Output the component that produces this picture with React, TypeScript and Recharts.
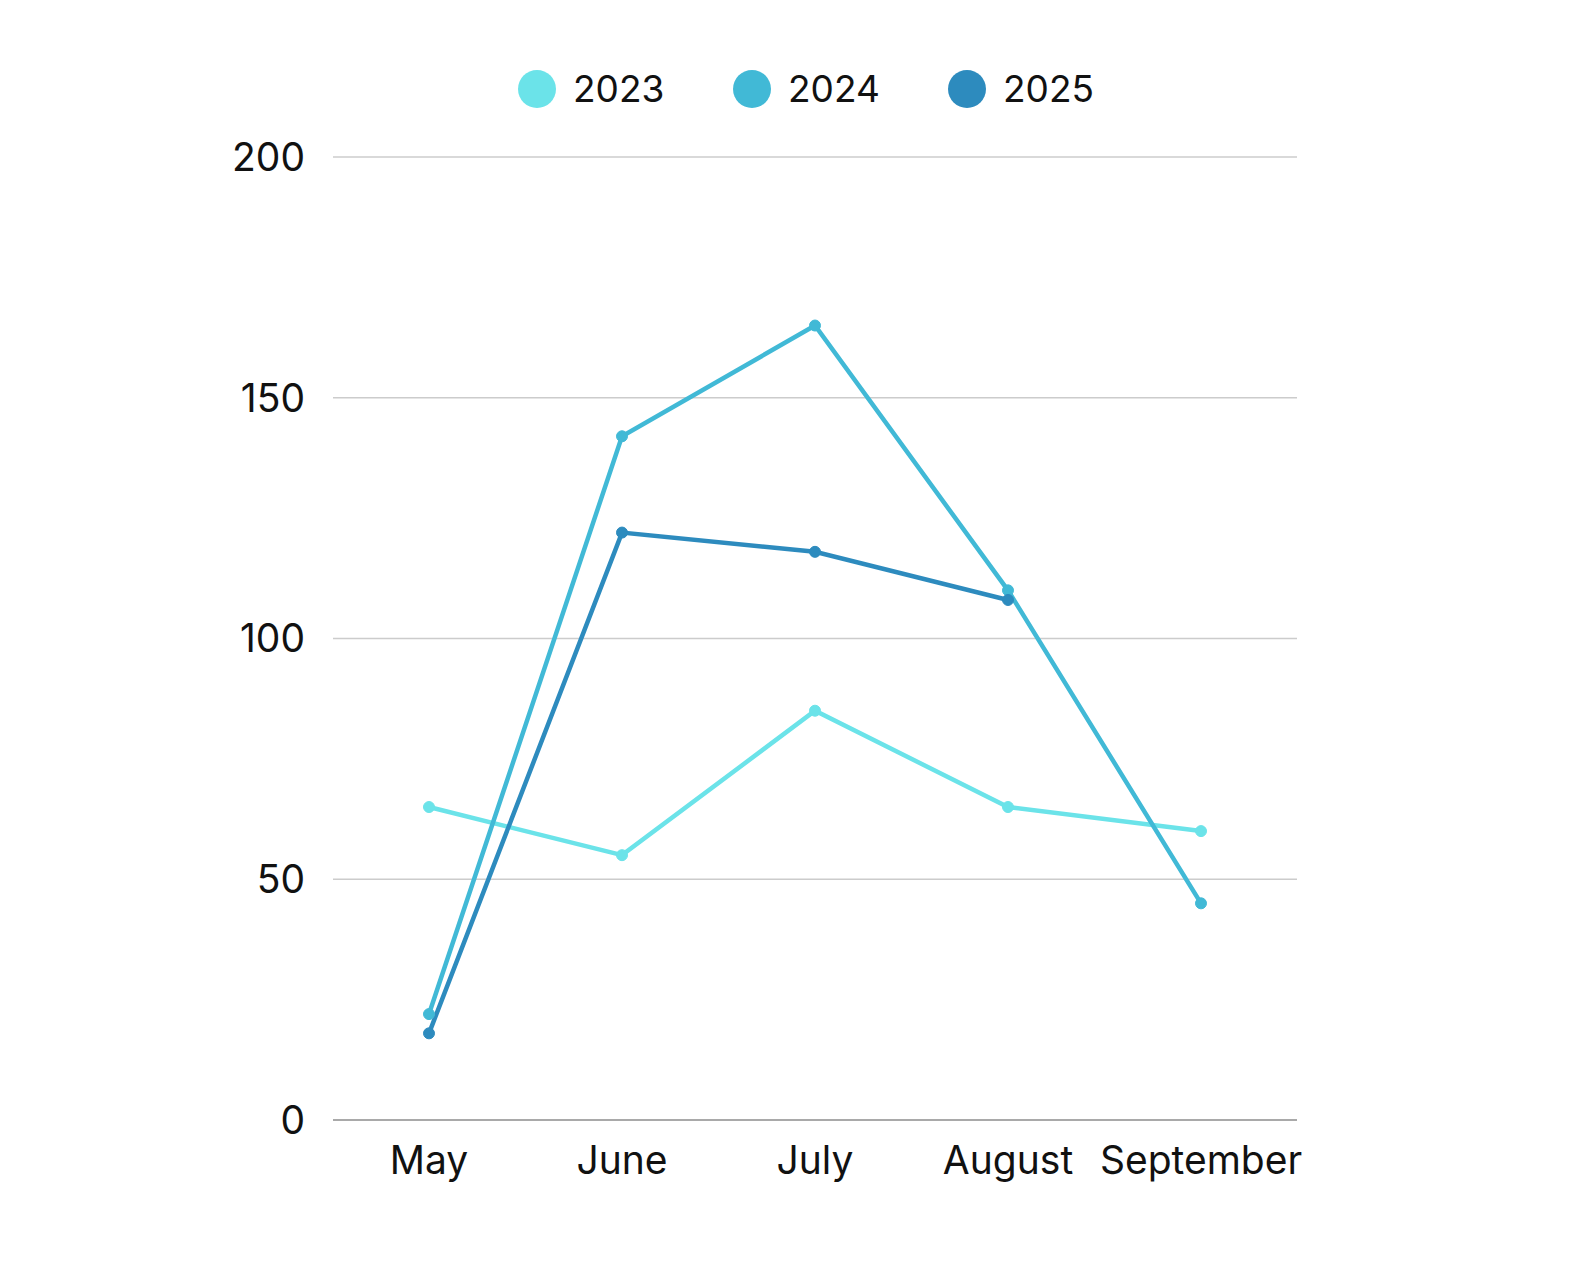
import React from 'react';
import { LineChart, Line, XAxis, YAxis, CartesianGrid } from 'recharts';

const months = ['May', 'June', 'July', 'August', 'September'];
const s2023 = [65, 55, 85, 65, 60];
const s2024 = [22, 142, 165, 110, 45];
const s2025: (number | null)[] = [18, 122, 118, 108, null];
const yTicks = [0, 50, 100, 150, 200];

const series = [
    { key: '2023', color: '#6be3e9', values: s2023 },
    { key: '2024', color: '#41b9d6', values: s2024 },
    { key: '2025', color: '#2d8bbe', values: s2025 },
];

const FONT = 'Inter, Roboto, sans-serif';

const data = months.map((m, i) => {
    const row: Record<string, string | number | null> = { month: m };
    series.forEach(s => { row[s.key] = s.values[i]; });
    return row;
});

export default function App() {
    return (
        <div style={{ position: 'absolute', left: 0, top: 0, width: 1591, height: 1283, background: '#fff', fontFamily: FONT }}>
            {/* legend drawn as html so it doesn't shift the plot */}
            <div style={{ position: 'absolute', top: 66, left: 518, display: 'flex' }}>
                {series.map(s => (
                    <div key={s.key} style={{ display: 'flex', alignItems: 'center', width: 215 }}>
                        <div style={{ width: 38, height: 38, borderRadius: '50%', background: s.color }}></div>
                        <span style={{ marginLeft: 17, fontSize: 37, color: '#111', lineHeight: '46px' }}>{s.key}</span>
                    </div>
                ))}
            </div>
            <LineChart
                width={1591}
                height={1283}
                data={data}
                margin={{ top: 157, right: 294, bottom: 103, left: 233 }}
            >
                <CartesianGrid vertical={false} stroke="#cccccc" strokeWidth={1.5} />
                <XAxis
                    dataKey="month"
                    padding={{ left: 96, right: 96 }}
                    height={60}
                    tickLine={false}
                    axisLine={{ stroke: '#999999', strokeWidth: 1.5 }}
                    tickMargin={20}
                    tick={{ fill: '#111', fontSize: 39, fontFamily: FONT }}
                    interval={0}
                />
                <YAxis
                    domain={[0, 200]}
                    ticks={yTicks}
                    width={100}
                    tickLine={false}
                    axisLine={false}
                    tickSize={0}
                    tickMargin={28}
                    tick={{ fill: '#111', fontSize: 39, fontFamily: FONT }}
                />
                {series.map(s => (
                    <Line
                        key={s.key}
                        dataKey={s.key}
                        stroke={s.color}
                        strokeWidth={4.5}
                        dot={{ r: 5.5, fill: s.color, stroke: s.color, strokeWidth: 1 }}
                        activeDot={false}
                        isAnimationActive={false}
                    />
                ))}
            </LineChart>
        </div>
    );
}
